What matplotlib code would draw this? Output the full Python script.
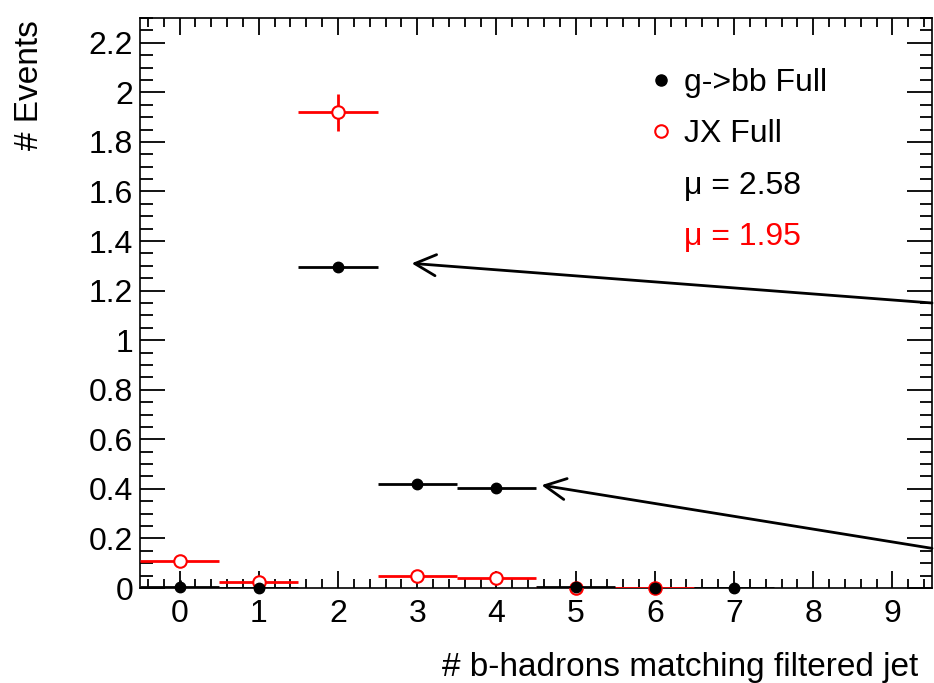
import matplotlib.pyplot as plt
from matplotlib.lines import Line2D
from matplotlib.ticker import MultipleLocator, FormatStrFormatter

plt.rcParams['font.family'] = ['Liberation Sans', 'DejaVu Sans']

# bin centres (# b-hadrons)
bins = [0, 1, 2, 3, 4, 5, 6, 7]

# g->bb Full
gbb_val = [0.004, 0.0, 1.295, 0.42, 0.405, 0.004, 0.0, 0.0]
gbb_err = [0.03, 0.005, 0.01, 0.01, 0.01, 0.004, 0.003, 0.003]
gbb_xerr = [0.5, 0.5, 0.5, 0.5, 0.5, 0.5, 0.0, 0.5]

# JX Full (bins 0..6)
jx_bins = [0, 1, 2, 3, 4, 5, 6]
jx_val = [0.11, 0.025, 1.92, 0.048, 0.04, 0.0, 0.0]
jx_err = [0.01, 0.01, 0.075, 0.02, 0.02, 0.002, 0.002]

# annotation arrows: (head, tail)
arrow_pts = [((2.93, 1.31), (9.5, 1.15)),
             ((4.57, 0.415), (9.5, 0.16))]

fig = plt.figure(figsize=(9.34, 6.83), dpi=100)
ax = fig.add_axes([140/934, 1-588/683, 792/934, 570/683])

red = ax.errorbar(jx_bins, jx_val, xerr=0.5, yerr=jx_err, fmt='o', color='red',
                  mfc='white', mec='red', mew=1.5, ms=9, lw=2, capsize=0,
                  zorder=3)
blk = ax.errorbar(bins, gbb_val, xerr=gbb_xerr, yerr=gbb_err, fmt='o',
                  color='black', ms=7.5, lw=2, capsize=0, zorder=4)
for cont in (red, blk):
    cont[0].set_clip_on(False)

for head, tail in arrow_pts:
    ax.annotate('', xy=head, xytext=tail,
                arrowprops=dict(arrowstyle='->', lw=2, color='black',
                                mutation_scale=38, shrinkA=0, shrinkB=0),
                annotation_clip=False)

ax.set_xlim(-0.5, 9.5)
ax.set_ylim(0, 2.3)
ax.xaxis.set_major_locator(MultipleLocator(1))
ax.xaxis.set_minor_locator(MultipleLocator(0.2))
ax.yaxis.set_major_locator(MultipleLocator(0.2))
ax.yaxis.set_minor_locator(MultipleLocator(0.05))
ax.yaxis.set_major_formatter(FormatStrFormatter('%g'))
ax.tick_params(which='both', direction='in', top=True, right=True,
               labelsize=23, width=1.3)
ax.tick_params(axis='x', which='major', length=12, pad=8)
ax.tick_params(axis='x', which='minor', length=6.5)
ax.tick_params(axis='y', which='major', length=18, pad=5)
ax.tick_params(axis='y', which='minor', length=9)
for s in ax.spines.values():
    s.set_linewidth(1.2)

handles = [Line2D([], [], ls='none', marker='o', color='black', ms=8),
           Line2D([], [], ls='none', marker='o', mfc='none', mec='red', ms=9, mew=1.5),
           Line2D([], [], ls='none'),
           Line2D([], [], ls='none')]
labels = ['g->bb Full', 'JX Full', '\u03bc = 2.58', '\u03bc = 1.95']
leg = ax.legend(handles, labels, loc='upper left', bbox_to_anchor=(0.606, 0.962),
                frameon=False, fontsize=23, labelspacing=0.66,
                handlelength=0.8, handletextpad=0.32)
leg.get_texts()[3].set_color('red')

fig.text(30/934, 1-20/683, '# Events', rotation=90, ha='center', va='top',
         fontsize=24)
fig.text(918/934, 1-652/683, '# b-hadrons matching filtered jet',
         ha='right', va='top', fontsize=24)

fig.savefig('out.png', dpi=100)
